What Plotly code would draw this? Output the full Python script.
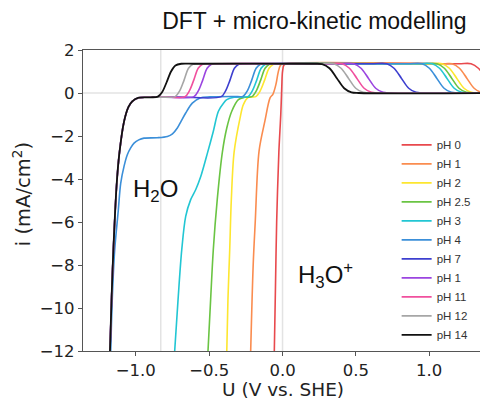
import plotly.graph_objects as go

# ---------------- data ----------------
labels = ["pH 0", "pH 1", "pH 2", "pH 2.5", "pH 3", "pH 4", "pH 7", "pH 1", "pH 11", "pH 12", "pH 14"]
colors = ["#e8494d", "#fa8c4f", "#fde62f", "#6ac443", "#22c6d3", "#3b8fd9",
          "#3d3fcf", "#9b45e0", "#f0509e", "#a6a6a6", "#111111"]

U_ph0 = [-0.056, -0.048, -0.04, -0.025, -0.012, -0.005, 0.0, 0.01, 0.03, 1.2, 1.285, 1.335, 1.385, 1.435, 1.485]
I_ph0 = [-12, -9, -6, -2.75, -1.0, 0.3, 1.0, 1.3, 1.36, 1.36, 1.36, 1.15, 0.69, 0.22, 0.03]

U_ph1 = [-0.217, -0.2, -0.186, -0.16, -0.12, -0.085, -0.065, -0.045, -0.03, -0.015, 0.005, 1.1, 1.156, 1.206, 1.256, 1.306, 1.356, 1.406]
I_ph1 = [-12, -8, -6, -2.7, -1.3, -0.23, -0.05, 0.4, 0.95, 1.28, 1.36, 1.36, 1.36, 1.15, 0.69, 0.22, 0.03, 0.0]

U_ph2 = [-0.38, -0.372, -0.36, -0.349, -0.33, -0.29, -0.267, -0.233, -0.182, -0.152, -0.122, -0.092, -0.062, -0.02, 1.0, 1.087, 1.137, 1.187, 1.237, 1.287, 1.337, 1.4]
I_ph2 = [-12, -9.6, -7.3, -4.96, -2.75, -1.18, -0.54, -0.2, -0.17, 0.1, 0.6, 1.15, 1.34, 1.36, 1.36, 1.36, 1.15, 0.69, 0.22, 0.03, 0.0, 0.0]

U_ph25 = [-0.508, -0.49, -0.472, -0.445, -0.41, -0.38, -0.346, -0.301, -0.26, -0.209, -0.179, -0.149, -0.119, -0.089, -0.05, 0.95, 1.053, 1.103, 1.153, 1.203, 1.253, 1.303, 1.4]
I_ph25 = [-12, -9.6, -7.3, -4.96, -2.75, -1.63, -0.85, -0.31, -0.2, -0.17, 0.1, 0.6, 1.15, 1.34, 1.36, 1.36, 1.36, 1.15, 0.69, 0.22, 0.03, 0.0, 0.0]

U_ph3 = [-0.735, -0.712, -0.687, -0.66, -0.626, -0.592, -0.558, -0.51, -0.472, -0.437, -0.40, -0.38, -0.33, -0.28, -0.236, -0.206, -0.176, -0.146, -0.116, -0.076, 0.9, 1.02, 1.07, 1.12, 1.17, 1.22, 1.27, 1.4]
I_ph3 = [-12, -9.6, -7.3, -5.74, -4.96, -4.5, -3.9, -2.75, -1.79, -0.85, -0.45, -0.31, -0.2, -0.18, -0.17, 0.1, 0.6, 1.15, 1.34, 1.36, 1.36, 1.36, 1.15, 0.69, 0.22, 0.03, 0.0, 0.0]

U_ph4 = [-1.171, -1.16, -1.144, -1.12, -1.103, -1.08, -1.058, -1.035, -1.012, -0.98, -0.944, -0.853, -0.785, -0.75, -0.717, -0.69, -0.66, -0.615, -0.562, -0.494, -0.33, -0.27, -0.24, -0.21, -0.18, -0.15, -0.11, 0.85, 0.951, 1.001, 1.051, 1.101, 1.151, 1.201, 1.4]
I_ph4 = [-12, -9.5, -7.3, -5.5, -4.2, -3.4, -2.87, -2.55, -2.33, -2.18, -2.1, -2.08, -2.02, -1.9, -1.63, -1.3, -0.93, -0.47, -0.23, -0.18, -0.16, -0.16, 0.1, 0.6, 1.15, 1.34, 1.36, 1.36, 1.36, 1.15, 0.69, 0.22, 0.03, 0.0, 0.0]

# shared cathodic (H2O reduction) branch for the alkaline curves
U_cath = [-1.176, -1.165, -1.153, -1.13, -1.112, -1.08, -1.05, -1.024, -0.98, -0.90]
I_cath = [-12, -9.5, -7.3, -4.2, -2.8, -1.32, -0.65, -0.39, -0.22, -0.2]

U_ph7 = U_cath + [-0.70, -0.418, -0.388, -0.358, -0.328, -0.298, -0.25, 0.6, 0.71, 0.76, 0.81, 0.86, 0.91, 0.96, 1.4]
I_ph7 = I_cath + [-0.19, -0.17, 0.1, 0.6, 1.15, 1.34, 1.36, 1.36, 1.36, 1.15, 0.69, 0.22, 0.03, 0.0, 0.0]

U_ph10 = U_cath + [-0.80, -0.604, -0.574, -0.544, -0.514, -0.484, -0.44, 0.35, 0.485, 0.535, 0.585, 0.635, 0.685, 0.735, 1.4]
I_ph10 = I_cath + [-0.19, -0.17, 0.1, 0.6, 1.15, 1.34, 1.36, 1.36, 1.36, 1.15, 0.69, 0.22, 0.03, 0.0, 0.0]

U_ph11 = U_cath + [-0.80, -0.665, -0.635, -0.605, -0.575, -0.545, -0.50, 0.30, 0.406, 0.456, 0.506, 0.556, 0.606, 0.656, 1.4]
I_ph11 = I_cath + [-0.19, -0.17, 0.1, 0.6, 1.15, 1.34, 1.36, 1.36, 1.36, 1.15, 0.69, 0.22, 0.03, 0.0, 0.0]

U_ph12 = U_cath + [-0.80, -0.731, -0.701, -0.671, -0.641, -0.611, -0.57, 0.25, 0.349, 0.399, 0.449, 0.499, 0.549, 0.599, 1.4]
I_ph12 = I_cath + [-0.19, -0.17, 0.1, 0.6, 1.15, 1.34, 1.36, 1.36, 1.36, 1.15, 0.69, 0.22, 0.03, 0.0, 0.0]

U_ph14 = U_cath + [-0.85, -0.82, -0.79, -0.76, -0.73, -0.69, -0.60, 0.20, 0.27, 0.32, 0.37, 0.42, 0.47, 0.52, 1.4]
I_ph14 = I_cath + [-0.17, 0.05, 0.5, 1.0, 1.28, 1.36, 1.36, 1.36, 1.34, 1.15, 0.69, 0.22, 0.03, 0.0, 0.0]

curves_U = [U_ph0, U_ph1, U_ph2, U_ph25, U_ph3, U_ph4, U_ph7, U_ph10, U_ph11, U_ph12, U_ph14]
curves_I = [I_ph0, I_ph1, I_ph2, I_ph25, I_ph3, I_ph4, I_ph7, I_ph10, I_ph11, I_ph12, I_ph14]

ref_U = [-0.83, 0.0]     # light reference lines (vertical)
ref_I = [0.0]            # light reference line (horizontal)

x_ticks = [-1.0, -0.5, 0.0, 0.5, 1.0]
y_ticks = [2, 0, -2, -4, -6, -8, -10, -12]

# ---------------- figure ----------------
fig = go.Figure()
for u, i, lab, col in zip(curves_U, curves_I, labels, colors):
    fig.add_trace(go.Scatter(
        x=u, y=i, mode="lines", name=lab,
        line=dict(color=col, width=1.8 if lab == "pH 14" else 1.6, shape="spline", smoothing=0.9),
        hoverinfo="skip"))

for v in ref_U:
    fig.add_shape(type="line", xref="x", yref="paper", x0=v, x1=v, y0=0, y1=1,
                  line=dict(color="#e3e3e3", width=1.5), layer="below")
for h in ref_I:
    fig.add_shape(type="line", xref="paper", yref="y", x0=0, x1=1, y0=h, y1=h,
                  line=dict(color="#e3e3e3", width=1.5), layer="below")

axis_common = dict(showline=True, linecolor="#555555", linewidth=1.3, ticks="outside",
                   ticklen=4, tickwidth=1.2, tickcolor="#555555", showgrid=False, zeroline=False,
                   tickfont=dict(family="DejaVu Sans", size=16.5, color="#222222"))

fig.update_layout(
    width=480, height=400,
    margin=dict(l=83, r=0, t=50, b=49),
    paper_bgcolor="white", plot_bgcolor="white",
    title=dict(text="DFT + micro-kinetic modelling", x=0.655, xref="container", xanchor="center",
               y=0.948, yref="container", yanchor="middle",
               font=dict(family="Liberation Sans", size=23, color="#111111")),
    xaxis=dict(range=[-1.36, 1.346], tickvals=x_ticks, tickformat=".1f", mirror=True, **axis_common),
    yaxis=dict(range=[-12, 2], tickvals=y_ticks, **axis_common),
    legend=dict(x=0.79, y=0.733, xanchor="left", yanchor="top", bgcolor="rgba(0,0,0,0)",
                font=dict(family="Liberation Sans", size=11.5, color="#333333"),
                tracegroupgap=0, itemwidth=30),
    showlegend=True,
)

fig.add_annotation(text="U (V vs. SHE)", xref="paper", yref="paper", x=0.504, y=-0.128,
                   xanchor="center", yanchor="middle", showarrow=False,
                   font=dict(family="DejaVu Sans", size=18.5, color="#222222"))
fig.add_annotation(text="i (mA/cm<sup>2</sup>)", xref="paper", yref="paper", x=-0.152, y=0.52,
                   xanchor="center", yanchor="middle", textangle=-90, showarrow=False,
                   font=dict(family="DejaVu Sans", size=19.5, color="#222222"))
fig.add_annotation(text="H<sub>2</sub>O", xref="x", yref="y", x=-0.867, y=-4.54,
                   xanchor="center", yanchor="middle", showarrow=False,
                   font=dict(family="Liberation Sans", size=24, color="#111111"))
fig.add_annotation(text="H<sub>3</sub>O<sup>+</sup>", xref="x", yref="y", x=0.29, y=-8.45,
                   xanchor="center", yanchor="middle", showarrow=False,
                   font=dict(family="Liberation Sans", size=24, color="#111111"))

fig.write_html("out.html")
